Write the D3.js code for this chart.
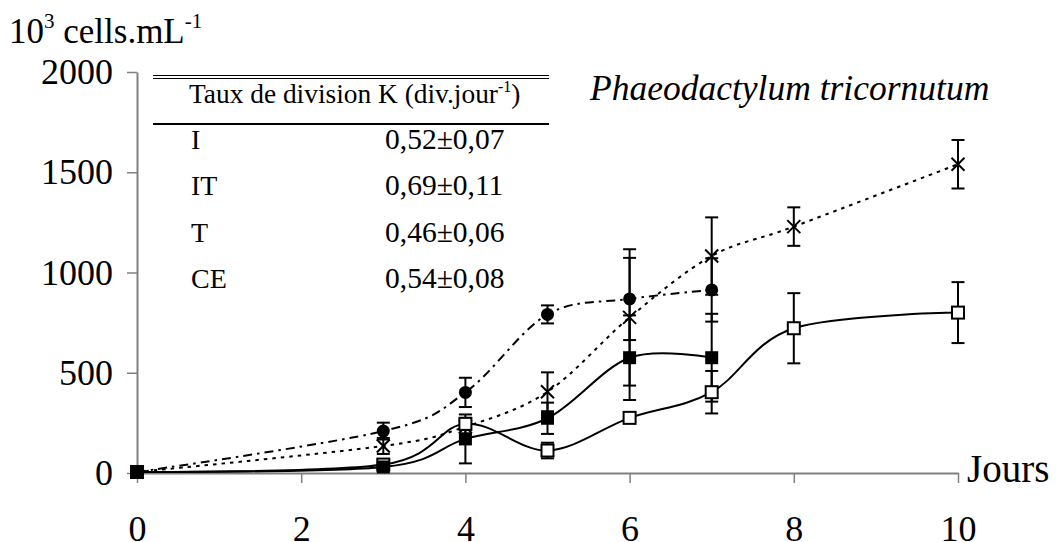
<!DOCTYPE html>
<html><head><meta charset="utf-8">
<script src="https://cdn.jsdelivr.net/npm/d3@7"></script>
<style>
body{margin:0;background:#fff;}
svg{display:block;font-family:"Liberation Serif","Times New Roman",serif;}
</style></head>
<body>
<svg id="c" width="1063" height="542"></svg>
<script>
// ---- data ----
const circleDays = [0, 3, 4, 5, 6, 7];
const circleVals = [5, 209, 402, 791, 868, 913];
const circleErr  = [0, 42, 73, 45, 205, 158];

const crossDays = [0, 3, 4, 5, 6, 7, 8, 10];
const crossVals = [5, 135, 231, 405, 776, 1082, 1229, 1540];
const crossErr  = [0, 40, 35, 97, 340, 193, 96, 121];

const fsqDays = [0, 3, 4, 5, 6, 7];
const fsqVals = [5, 30, 170, 273, 575, 575];
const fsqErr  = [0, 10, 122, 78, 211, 219];

const osqDays = [0, 3, 4, 5, 6, 7, 8, 10];
const osqVals = [5, 42, 245, 112, 275, 403, 722, 800];
const osqErr  = [0, 10, 30, 39, 15, 106, 175, 152];

const xTicks = [0, 2, 4, 6, 8, 10];
const yTicks = [0, 500, 1000, 1500, 2000];

const tableHeader = "Taux de division K (div.jour";
const tableLabels = ["I", "IT", "T", "CE"];
const tableValues = ["0,52\u00b10,07", "0,69\u00b10,11", "0,46\u00b10,06", "0,54\u00b10,08"];

// ---- drawing ----
const FONT = '"Liberation Serif","Times New Roman",serif';
const svg = d3.select("#c");
const x = d3.scaleLinear().domain([0, 10]).range([137, 958]);
const y = d3.scaleLinear().domain([0, 2000]).range([473, 72]);
const axisColor = "#808080";

// axes
const gy = svg.append("g").attr("transform", "translate(137,0)")
  .call(d3.axisLeft(y).tickValues(yTicks).tickSize(10).tickSizeOuter(0).tickPadding(14).tickFormat(d3.format("d")));
const gx = svg.append("g").attr("transform", "translate(0,473)")
  .call(d3.axisBottom(x).tickValues(xTicks).tickSize(10).tickSizeOuter(0).tickPadding(32).tickFormat(d3.format("d")));
[gy, gx].forEach(g => {
  g.attr("font-family", FONT);
  g.select(".domain").attr("stroke", axisColor).attr("stroke-width", 2);
  g.selectAll(".tick line").attr("stroke", axisColor).attr("stroke-width", 1.5);
  g.selectAll(".tick text").attr("fill", "#000").style("font-size", "36px").style("font-family", FONT);
});

// axis titles
const yl = svg.append("text").attr("x", 9).attr("y", 43).style("font-size", "35px");
yl.append("tspan").text("10");
yl.append("tspan").attr("dy", -15).style("font-size", "21px").text("3");
yl.append("tspan").attr("dy", 15).text(" cells.mL");
yl.append("tspan").attr("dy", -15).style("font-size", "21px").text("-1");

svg.append("text").attr("x", 967).attr("y", 482).style("font-size", "39px").text("Jours");

svg.append("text").attr("x", 590).attr("y", 100).style("font-size", "35.5px")
  .style("font-style", "italic").text("Phaeodactylum tricornutum");

// table
const tx0 = 153, tx1 = 549;
svg.append("line").attr("x1", tx0).attr("x2", tx1).attr("y1", 75.5).attr("y2", 75.5).attr("stroke", "#000").attr("stroke-width", 1);
svg.append("line").attr("x1", tx0).attr("x2", tx1).attr("y1", 78.5).attr("y2", 78.5).attr("stroke", "#000").attr("stroke-width", 1);
svg.append("line").attr("x1", tx0).attr("x2", tx1).attr("y1", 124).attr("y2", 124).attr("stroke", "#000").attr("stroke-width", 2);
const th = svg.append("text").attr("x", 189).attr("y", 103).style("font-size", "27.4px");
th.append("tspan").text(tableHeader);
th.append("tspan").attr("dy", -11).style("font-size", "16px").text("-1");
th.append("tspan").attr("dy", 11).text(")");
tableLabels.forEach((lab, i) => {
  svg.append("text").attr("x", 191).attr("y", 149 + i * 46.3).style("font-size", "28px").text(lab);
  svg.append("text").attr("x", 385).attr("y", 149 + i * 46.3).style("font-size", "29.5px").text(tableValues[i]);
});

// series
const series = [
  {days: circleDays, vals: circleVals, err: circleErr, dash: "9,5,2.5,5", marker: "circle"},
  {days: crossDays, vals: crossVals, err: crossErr, dash: "3.5,5", marker: "cross"},
  {days: osqDays, vals: osqVals, err: osqErr, dash: null, marker: "osq"},
  {days: fsqDays, vals: fsqVals, err: fsqErr, dash: null, marker: "fsq"}
];
const line = d3.line().x(d => x(d[0])).y(d => y(d[1])).curve(d3.curveCardinal.tension(0));

series.forEach(s => {
  const pts = s.days.map((d, i) => [d, s.vals[i]]);
  svg.append("path").datum(pts).attr("d", line).attr("fill", "none")
    .attr("stroke", "#000").attr("stroke-width", 2)
    .attr("stroke-dasharray", s.dash);
});
const cap = 6.5;
series.forEach(s => {
  s.days.forEach((d, i) => {
    const e = s.err[i];
    if (!e) return;
    const g = svg.append("g").attr("stroke", "#000").attr("stroke-width", 2);
    const cx = x(d), yt = y(s.vals[i] + e), yb = y(s.vals[i] - e);
    g.append("line").attr("x1", cx).attr("x2", cx).attr("y1", yt).attr("y2", yb);
    g.append("line").attr("x1", cx - cap).attr("x2", cx + cap).attr("y1", yt).attr("y2", yt);
    g.append("line").attr("x1", cx - cap).attr("x2", cx + cap).attr("y1", yb).attr("y2", yb);
  });
});
series.forEach(s => {
  s.days.forEach((d, i) => {
    const cx = x(d), cy = y(s.vals[i]);
    if (s.marker === "circle") {
      svg.append("circle").attr("cx", cx).attr("cy", cy).attr("r", 6.5).attr("fill", "#000");
    } else if (s.marker === "fsq") {
      svg.append("rect").attr("x", cx - 6.5).attr("y", cy - 6.5).attr("width", 13).attr("height", 13).attr("fill", "#000");
    } else if (s.marker === "osq") {
      svg.append("rect").attr("x", cx - 6).attr("y", cy - 6).attr("width", 12).attr("height", 12)
        .attr("fill", "#fff").attr("stroke", "#000").attr("stroke-width", 2);
    } else {
      const g = svg.append("g").attr("stroke", "#000").attr("stroke-width", 2);
      g.append("line").attr("x1", cx - 6.5).attr("x2", cx + 6.5).attr("y1", cy - 6.5).attr("y2", cy + 6.5);
      g.append("line").attr("x1", cx - 6.5).attr("x2", cx + 6.5).attr("y1", cy + 6.5).attr("y2", cy - 6.5);
    }
  });
});
</script>
</body></html>
